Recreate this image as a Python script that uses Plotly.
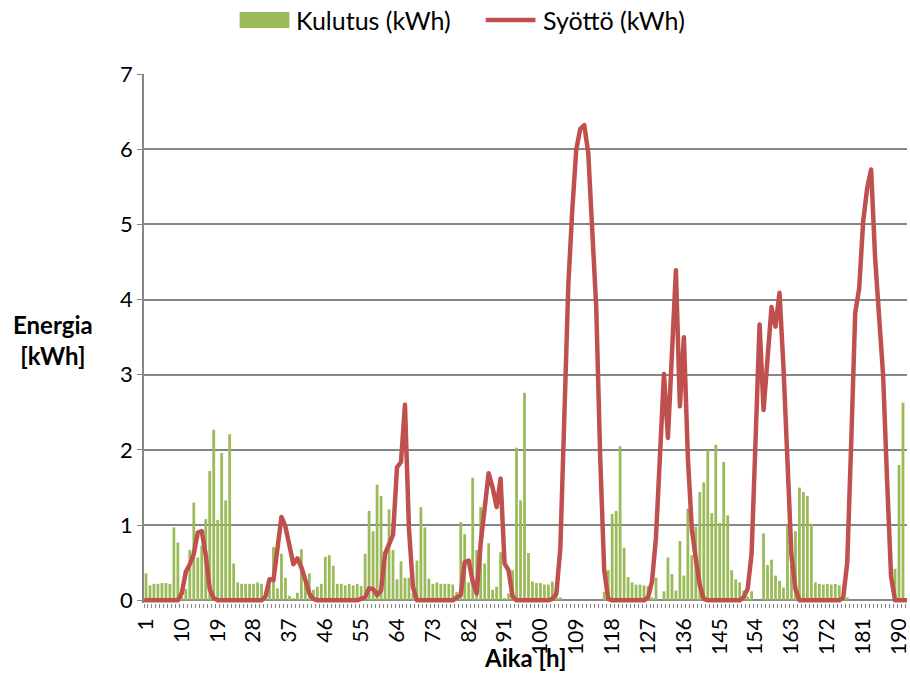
import plotly.graph_objects as go

hours = list(range(1, 193))

kulutus = [
    0.36, 0.20, 0.22, 0.22, 0.23, 0.23, 0.22, 0.97, 0.77, 0.05,
    0.15, 0.67, 1.30, 0.57, 0.73, 1.08, 1.72, 2.27, 1.07, 1.96,
    1.33, 2.21, 0.49, 0.24, 0.22, 0.22, 0.22, 0.22, 0.24, 0.22,
    0.10, 0.20, 0.71, 0.16, 0.62, 0.30, 0.06, 0.03, 0.10, 0.68,
    0.30, 0.36, 0.14, 0.18, 0.22, 0.58, 0.60, 0.46, 0.22, 0.22,
    0.20, 0.22, 0.20, 0.22, 0.19, 0.62, 1.19, 0.92, 1.54, 1.39,
    0.50, 1.21, 0.67, 0.28, 0.52, 0.30, 0.30, 0.10, 0.53, 1.24,
    0.97, 0.29, 0.22, 0.24, 0.22, 0.22, 0.22, 0.21, 0.11, 1.04,
    0.88, 0.24, 1.63, 0.67, 1.24, 0.49, 0.76, 0.14, 0.18, 0.64,
    0.03, 0.09, 0.40, 2.03, 1.33, 2.76, 0.63, 0.25, 0.23, 0.23,
    0.21, 0.21, 0.25, 0.09, 0.04, 0.00, 0.00, 0.00, 0.00, 0.00,
    0.00, 0.00, 0.00, 0.00, 0.00, 0.11, 0.40, 1.15, 1.19, 2.05,
    0.70, 0.31, 0.24, 0.21, 0.21, 0.20, 0.19, 0.04, 0.30, 0.00,
    0.12, 0.57, 0.35, 0.13, 0.79, 0.33, 1.22, 0.60, 0.98, 1.44,
    1.57, 2.00, 1.16, 2.07, 1.03, 1.84, 1.13, 0.40, 0.28, 0.24,
    0.13, 0.05, 0.12, 0.00, 0.00, 0.89, 0.47, 0.54, 0.33, 0.26,
    0.17, 1.00, 0.47, 0.92, 1.50, 1.44, 1.39, 1.02, 0.24, 0.22,
    0.21, 0.22, 0.21, 0.22, 0.20, 0.09, 0.04, 0.00, 0.00, 0.00,
    0.00, 0.00, 0.00, 0.00, 0.00, 0.00, 0.00, 0.00, 0.42, 1.80,
    2.63, 0.00,
]

syotto = [
    0.00, 0.00, 0.00, 0.00, 0.00, 0.00, 0.00, 0.00, 0.00, 0.10,
    0.38, 0.48, 0.62, 0.90, 0.92, 0.60, 0.15, 0.03, 0.00, 0.00,
    0.00, 0.00, 0.00, 0.00, 0.00, 0.00, 0.00, 0.00, 0.00, 0.00,
    0.05, 0.28, 0.27, 0.69, 1.11, 0.98, 0.70, 0.48, 0.56, 0.44,
    0.27, 0.09, 0.02, 0.00, 0.00, 0.00, 0.00, 0.00, 0.00, 0.00,
    0.00, 0.00, 0.00, 0.00, 0.02, 0.04, 0.16, 0.15, 0.07, 0.13,
    0.62, 0.76, 0.87, 1.77, 1.84, 2.60, 0.95, 0.18, 0.00, 0.00,
    0.00, 0.00, 0.00, 0.00, 0.00, 0.00, 0.00, 0.00, 0.04, 0.07,
    0.51, 0.53, 0.25, 0.09, 0.76, 1.20, 1.69, 1.50, 1.24, 1.62,
    0.49, 0.40, 0.05, 0.00, 0.00, 0.00, 0.00, 0.00, 0.00, 0.00,
    0.00, 0.00, 0.02, 0.09, 0.70, 2.40, 4.20, 5.20, 6.00, 6.27,
    6.32, 5.95, 4.95, 3.90, 1.90, 0.40, 0.02, 0.00, 0.00, 0.00,
    0.00, 0.00, 0.00, 0.00, 0.00, 0.00, 0.04, 0.25, 0.84, 2.00,
    3.01, 2.16, 3.25, 4.39, 2.58, 3.50, 1.90, 0.95, 0.55, 0.20,
    0.02, 0.00, 0.00, 0.00, 0.00, 0.00, 0.00, 0.00, 0.00, 0.00,
    0.04, 0.15, 0.62, 2.15, 3.67, 2.53, 3.20, 3.90, 3.64, 4.09,
    3.10, 1.70, 0.60, 0.15, 0.00, 0.00, 0.00, 0.00, 0.00, 0.00,
    0.00, 0.00, 0.00, 0.00, 0.00, 0.04, 0.50, 2.10, 3.82, 4.15,
    5.04, 5.48, 5.73, 4.55, 3.85, 3.00, 1.60, 0.32, 0.00, 0.00,
    0.00, 0.00,
]

tick_hours = [1, 10, 19, 28, 37, 46, 55, 64, 73, 82, 91, 100, 109, 118,
              127, 136, 145, 154, 163, 172, 181, 190]
y_ticks = [0, 1, 2, 3, 4, 5, 6, 7]

GREEN = "#9BBB59"
RED = "#C0504D"
GRID = "#868686"
FONT = "Lato, 'Liberation Sans', sans-serif"

fig = go.Figure()
fig.add_trace(go.Bar(x=hours, y=kulutus, name="Kulutus (kWh)",
                     marker=dict(color=GREEN, line=dict(width=0)),
                     showlegend=False))
fig.add_trace(go.Scatter(x=hours, y=syotto, name="Syöttö (kWh)", mode="lines",
                         line=dict(color=RED, width=4.5), showlegend=False))

L, T, B = 144, 74, 95.4
W, H = 910, 698
pw = W - L


def px(xp):
    return (xp - L) / pw


def py(yp):
    return (600 - yp) / (600 - T) * (7 / 7.035) + 0.035 / 7.035


fig.update_layout(
    width=W, height=H,
    margin=dict(l=L, r=0, t=T, b=B, pad=0),
    plot_bgcolor="white", paper_bgcolor="white",
    bargap=0.3,
    font=dict(family=FONT, size=22, color="black"),
    xaxis=dict(
        range=[0.5, 0.5 + pw / 4.0],
        tickmode="array", tickvals=tick_hours,
        ticktext=[str(t) for t in tick_hours],
        tickangle=-90, ticks="outside", ticklen=6,
        tickcolor="rgba(0,0,0,0)",
        showgrid=False, zeroline=False, showline=False,
        tickfont=dict(family=FONT, size=21, color="black"),
        ticklabeloverflow="allow",
        minor=dict(ticks="outside", ticklen=4, tickcolor=GRID, tickwidth=1,
                   tick0=0.5, dtick=1, showgrid=False),
    ),
    yaxis=dict(
        range=[-0.035, 7], tickvals=y_ticks,
        showgrid=True, gridcolor=GRID, gridwidth=1.5,
        zeroline=True, zerolinecolor=GRID, zerolinewidth=1.5,
        showline=True, linecolor=GRID, linewidth=1.5,
        ticks="outside", ticklen=5, tickcolor=GRID,
        tickfont=dict(family=FONT, size=22, color="black"),
    ),
    shapes=[
        dict(type="rect", xref="paper", yref="paper",
             x0=px(240), x1=px(290), y0=py(28), y1=py(12),
             fillcolor=GREEN, line=dict(width=0)),
        dict(type="line", xref="paper", yref="paper",
             x0=px(487), x1=px(537), y0=py(20), y1=py(20),
             line=dict(color=RED, width=4.5)),
    ],
    annotations=[
        dict(text="Kulutus (kWh)", xref="paper", yref="paper",
             x=px(295), y=py(20), xanchor="left", yanchor="middle",
             showarrow=False, font=dict(family=FONT, size=25, color="black")),
        dict(text="Syöttö (kWh)", xref="paper", yref="paper",
             x=px(543), y=py(20), xanchor="left", yanchor="middle",
             showarrow=False, font=dict(family=FONT, size=25, color="black")),
        dict(text="<b>Energia</b><br><b>[kWh]</b>", xref="paper", yref="paper",
             x=px(53), y=py(340), xanchor="center", yanchor="middle",
             showarrow=False, align="center",
             font=dict(family=FONT, size=24, color="black")),
        dict(text="<b>Aika [h]</b>", xref="paper", yref="paper",
             x=px(527), y=py(657), xanchor="center", yanchor="middle",
             showarrow=False, font=dict(family=FONT, size=24, color="black")),
    ],
)

post = (
    "var f=function(){document.querySelectorAll('.scatterlayer path.js-line')"
    ".forEach(function(p){p.style.strokeLinejoin='round';"
    "p.style.strokeLinecap='round';});};f();setTimeout(f,50);"
)
fig.write_html("out.html", post_script=post)
